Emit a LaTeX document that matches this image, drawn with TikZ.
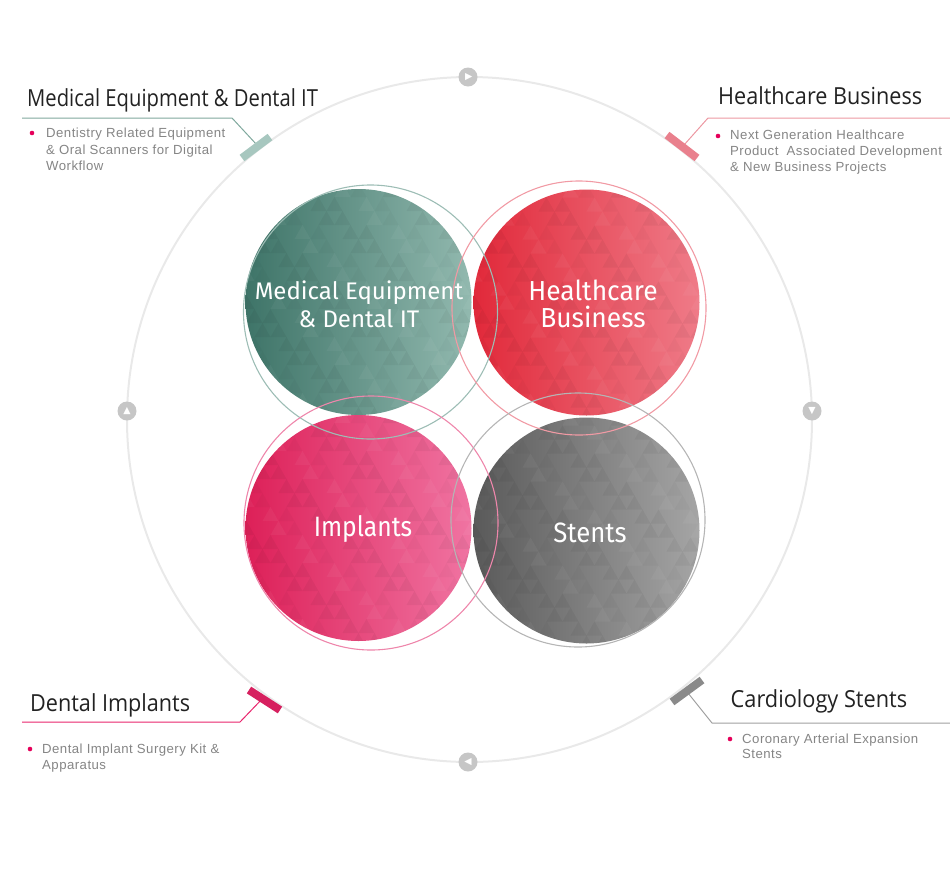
\documentclass[tikz,border=0pt]{standalone}
\usepackage{fontspec}
\setmainfont{Liberation Sans}
\newfontfamily\titlefont{Open Sans}
\newfontfamily\circfont{Fira Sans}
\newfontfamily\symfont{DejaVu Sans}
\newfontfamily\bodyfont[LetterSpace=3.5]{Liberation Sans}
\definecolor{tealD}{HTML}{3E7468}
\definecolor{tealL}{HTML}{92B9AF}
\definecolor{redD}{HTML}{E1293A}
\definecolor{redL}{HTML}{EF7B88}
\definecolor{pinkD}{HTML}{DD2058}
\definecolor{pinkL}{HTML}{F074A2}
\definecolor{grayD}{HTML}{5A5A5A}
\definecolor{grayL}{HTML}{A5A5A5}
\definecolor{tealR}{HTML}{9DBDB5}
\definecolor{redR}{HTML}{F19AA4}
\definecolor{pinkR}{HTML}{EE86AB}
\definecolor{grayR}{HTML}{B5B5B5}
\definecolor{tealLn}{HTML}{7FA89D}
\definecolor{redLn}{HTML}{EC98A2}
\definecolor{pinkLn}{HTML}{E8246C}
\definecolor{grayLn}{HTML}{A0A0A0}
\definecolor{tealBar}{HTML}{A7C7BF}
\definecolor{redBar}{HTML}{E9808D}
\definecolor{pinkBar}{HTML}{D6205F}
\definecolor{grayBar}{HTML}{8A8A8A}
\definecolor{orbitC}{HTML}{E9E9E9}
\definecolor{btnC}{HTML}{C6C6C6}
\definecolor{titleC}{HTML}{222222}
\definecolor{bodyC}{HTML}{858585}
\definecolor{bulletC}{HTML}{E5005A}
\newcommand\tripat{%
  \begin{scope}[shift={(path picture bounding box.center)}]
  \foreach \j in {-9,...,9}{%
    \foreach \i in {-8,...,8}{%
      \pgfmathtruncatemacro\k{mod(\i*7+\j*5+200,6)}%
      \pgfmathsetmacro\xo{\i*16+mod(\j+20,2)*8}%
      \ifnum\k<2 \fill[black,opacity=0.045] (\xo-8,\j*14+7) -- (\xo+8,\j*14+7) -- (\xo,\j*14-7) -- cycle;\fi
      \ifnum\k=3 \fill[white,opacity=0.045] (\xo-8,\j*14+7) -- (\xo+8,\j*14+7) -- (\xo,\j*14-7) -- cycle;\fi
      \ifnum\k=4 \fill[black,opacity=0.025] (\xo-8,\j*14+7) -- (\xo+8,\j*14+7) -- (\xo,\j*14-7) -- cycle;\fi
    }}
  \end{scope}}
\begin{document}
\begin{tikzpicture}[x=1pt,y=-1pt,
  blob/.style={circle, minimum size=226pt, inner sep=0, draw=none, shading angle=30, path picture={\tripat}},
  ringc/.style={circle, minimum size=254pt, inner sep=0, line width=1.1pt},
  circtext/.style={text=white, font=\circfont, inner sep=0, anchor=base},
  titletext/.style={text=titleC, font=\titlefont\fontsize{23.5}{26}\selectfont, inner sep=0, anchor=base west},
  bodytext/.style={text=bodyC, font=\bodyfont\fontsize{13.2}{16}\selectfont, inner sep=0, anchor=base west},
  bulletdot/.style={circle, fill=bulletC, inner sep=0, minimum size=4.6pt},
  leader/.style={line width=1pt},
  barseg/.style={line width=8pt, line cap=butt},
  btn/.style={circle, fill=btnC, inner sep=0, minimum size=19pt, text=white, font=\symfont\fontsize{9.5}{9.5}\selectfont}
]
\useasboundingbox (0,0) rectangle (950,887);
% orbit
\node[circle, draw=orbitC, line width=2pt, minimum size=685pt, inner sep=0] (orbit) at (469.5,419.5) {};
% arrow buttons
\node[btn] (bt) at (468,77) {\hspace{1.5pt}▶};
\node[btn] (bl) at (127,411) {\raisebox{1pt}{▲}};
\node[btn] (br) at (812,411) {▼};
\node[btn] (bb) at (468,762) {◀\hspace{1.5pt}};
% filled circles
\node[blob, left color=tealD, right color=tealL] (med) at (358.5,302) {};
\node[blob, left color=redD, right color=redL] (hc) at (586.5,302.5) {};
\node[blob, left color=pinkD, right color=pinkL] (imp) at (358.5,528) {};
\node[blob, left color=grayD, right color=grayL] (st) at (586.5,530.5) {};
% rings
\node[ringc, draw=tealR] (medr) at (370.5,312) {};
\node[ringc, draw=redR] (hcr) at (579,308) {};
\node[ringc, draw=pinkR] (impr) at (371,523) {};
\node[ringc, draw=grayR] (str) at (578,520) {};
% circle texts
\node[circtext, font=\circfont\fontsize{24}{26}\selectfont] (medt1) at (359,299) {Medical Equipment};
\node[circtext, font=\circfont\fontsize{24}{26}\selectfont] (medt2) at (359,327) {\&~Dental IT};
\node[circtext, font=\circfont\fontsize{27.5}{30}\selectfont] (hct1) at (593,300) {\scalebox{0.96}[1]{Healthcare}};
\node[circtext, font=\circfont\fontsize{27.5}{30}\selectfont] (hct2) at (593,327) {\scalebox{0.96}[1]{Business}};
\node[circtext, font=\circfont\fontsize{28}{30}\selectfont] (impt) at (363,536) {\scalebox{0.88}[1]{Implants}};
\node[circtext, font=\circfont\fontsize{28}{30}\selectfont] (stt) at (590,542.5) {\scalebox{0.92}[1]{Stents}};
% leaders and bars
\coordinate (tlA) at (22,118); \coordinate (tlB) at (232,118); \coordinate (tlC) at (257,145);
\coordinate (tlb1) at (242,158); \coordinate (tlb2) at (270,137);
\draw[leader, tealLn] (tlA) -- (tlB) -- (tlC);
\draw[barseg, tealBar] (tlb1) -- (tlb2);
\coordinate (trA) at (950,118); \coordinate (trB) at (708,118); \coordinate (trC) at (684,145);
\coordinate (trb1) at (667,135); \coordinate (trb2) at (697,158);
\draw[leader, redLn] (trA) -- (trB) -- (trC);
\draw[barseg, redBar] (trb1) -- (trb2);
\coordinate (blA) at (22,722); \coordinate (blB) at (240,722); \coordinate (blC) at (263,698);
\coordinate (blb1) at (249,690); \coordinate (blb2) at (280,710);
\draw[leader, pinkLn] (blA) -- (blB) -- (blC);
\draw[barseg, pinkBar] (blb1) -- (blb2);
\coordinate (brA) at (950,723); \coordinate (brB) at (712,723); \coordinate (brC) at (688,693);
\coordinate (brb1) at (672,702); \coordinate (brb2) at (702,680);
\draw[leader, grayLn] (brA) -- (brB) -- (brC);
\draw[barseg, grayBar] (brb1) -- (brb2);
% titles
\node[titletext] (tlT) at (27,106) {\scalebox{0.86}[1]{Medical Equipment \& Dental IT}};
\node[titletext] (trT) at (718,104.5) {\scalebox{0.92}[1]{Healthcare Business}};
\node[titletext] (blT) at (30,711.5) {\scalebox{0.92}[1]{Dental Implants}};
\node[titletext] (brT) at (730.5,707.5) {\scalebox{0.925}[1]{Cardiology Stents}};
% body
\node[bulletdot] (tlD) at (32,133) {};
\node[bodytext] (tl1) at (46,137.5) {Dentistry Related Equipment};
\node[bodytext] (tl2) at (46,154) {\& Oral Scanners for Digital};
\node[bodytext] (tl3) at (46,170) {Workflow};
\node[bulletdot] (trD) at (718,136) {};
\node[bodytext] (tr1) at (730,139) {Next Generation Healthcare};
\node[bodytext] (tr2) at (730,155) {Product~ Associated Development};
\node[bodytext] (tr3) at (730,171) {\& New Business Projects};
\node[bulletdot] (blD) at (30,749) {};
\node[bodytext] (bl1) at (42,753) {Dental Implant Surgery Kit \&};
\node[bodytext] (bl2) at (42,769) {Apparatus};
\node[bulletdot] (brD) at (730,739) {};
\node[bodytext] (br1) at (742,743) {Coronary Arterial Expansion};
\node[bodytext] (br2) at (742,758) {Stents};
\end{tikzpicture}
\end{document}
